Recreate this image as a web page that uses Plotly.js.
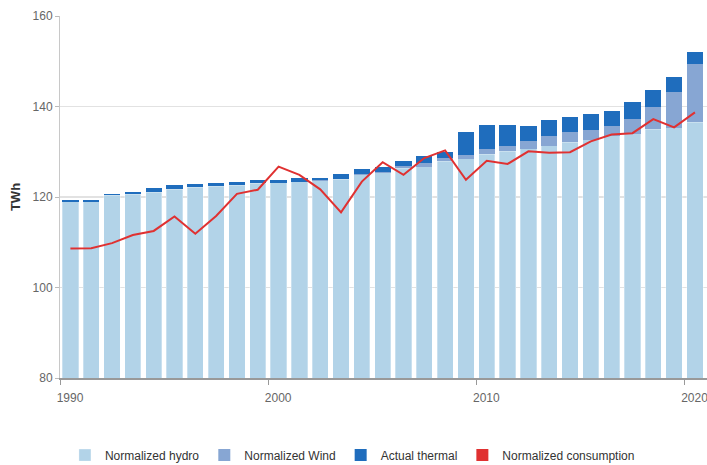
<!DOCTYPE html>
<html>
<head>
<meta charset="utf-8">
<script src="https://cdn.plot.ly/plotly-3.0.1.min.js"></script>
<style>
html,body{margin:0;padding:0;background:#fff;}
#chart{width:707px;height:465px;}
</style>
</head>
<body>
<div id="chart"></div>
<script>
const years = [1990,1991,1992,1993,1994,1995,1996,1997,1998,1999,2000,2001,2002,2003,2004,2005,2006,2007,2008,2009,2010,2011,2012,2013,2014,2015,2016,2017,2018,2019,2020];
const hydro = [118.9,118.9,120.4,120.6,121.1,121.7,122.2,122.4,122.6,123.0,123.1,123.4,123.6,123.9,124.9,125.4,126.3,126.7,127.9,128.5,129.5,130.1,130.7,131.3,132.1,132.6,133.5,134.0,135.0,135.3,136.5];
const wind = [0,0,0,0,0,0,0,0,0,0,0,0,0.1,0.1,0.2,0.2,0.5,0.9,0.8,0.8,1.0,1.2,1.7,2.2,2.2,2.1,2.1,3.3,5.0,7.9,12.9];
const thermal = [0.5,0.5,0.2,0.6,0.9,0.9,0.7,0.8,0.8,0.8,0.7,0.7,0.6,1.1,1.0,1.1,1.1,1.5,1.3,5.0,5.5,4.7,3.4,3.6,3.4,3.7,3.5,3.6,3.65,3.4,2.7];
const consumption = [108.6,108.7,109.8,111.6,112.5,115.7,111.9,115.8,120.7,121.6,126.7,124.9,121.7,116.6,123.4,127.7,124.9,128.6,130.3,123.8,128.0,127.3,130.1,129.8,129.9,132.3,133.8,134.1,137.2,135.4,138.7];
const tickYears = [1990,2000,2010,2020];

const cHydro = '#b2d3e8', cWind = '#87a6d3', cThermal = '#1f6dbd', cCons = '#e03131';
const font = 'Liberation Sans, Arial, sans-serif';

const traces = [
  {type:'bar', name:'Normalized hydro', x:years, y:hydro, marker:{color:cHydro, line:{color:'rgba(255,255,255,0.6)', width:0.5}}},
  {type:'bar', name:'Normalized Wind', x:years, y:wind, marker:{color:cWind, line:{width:0}}},
  {type:'bar', name:'Actual thermal', x:years, y:thermal, marker:{color:cThermal, line:{width:0}}},
  {type:'scatter', mode:'lines', name:'Normalized consumption', x:years, y:consumption, line:{color:cCons, width:2}, showlegend:false, legendgroup:'cons'},
  {type:'bar', name:'Normalized consumption', x:[null], y:[null], marker:{color:cCons}, legendgroup:'cons', hoverinfo:'skip'}
];

const layout = {
  width:707, height:465,
  margin:{l:60, r:0, t:16, b:87, autoexpand:false},
  paper_bgcolor:'#fff', plot_bgcolor:'#fff',
  barmode:'stack', bargap:0.22,
  font:{family:font, size:12, color:'#666'},
  xaxis:{
    range:[1989.5, 2020.58],
    tickmode:'array',
    tickvals:tickYears.map(v=>v-0.5),
    ticktext:tickYears.map(String),
    ticklabelshift:10,
    ticklabelstandoff:3,
    ticklabeloverflow:'allow',
    ticks:'outside', ticklen:5, tickcolor:'#999', tickwidth:1,
    showgrid:false, zeroline:false,
    showline:true, linecolor:'#999', linewidth:2,
    tickfont:{size:12, color:'#666'}
  },
  yaxis:{
    range:[80,160],
    tickvals:[80,100,120,140,160],
    ticks:'outside', ticklen:4, tickcolor:'#bbb',
    showgrid:true, gridcolor:'#e2e2e2', gridwidth:1.5,
    zeroline:false, showline:true, linecolor:'#c8c8c8', linewidth:1,
    tickfont:{size:12, color:'#666'},
    title:{text:'<b>TWh</b>', font:{size:13, color:'#333'}, standoff:9}
  },
  legend:{
    orientation:'h', x:0.452, xanchor:'center', y:-0.213, yanchor:'middle',
    font:{size:12, color:'#333'}, traceorder:'normal'
  },
  showlegend:true
};

Plotly.newPlot('chart', traces, layout, {displayModeBar:false, staticPlot:true});
</script>
</body>
</html>
